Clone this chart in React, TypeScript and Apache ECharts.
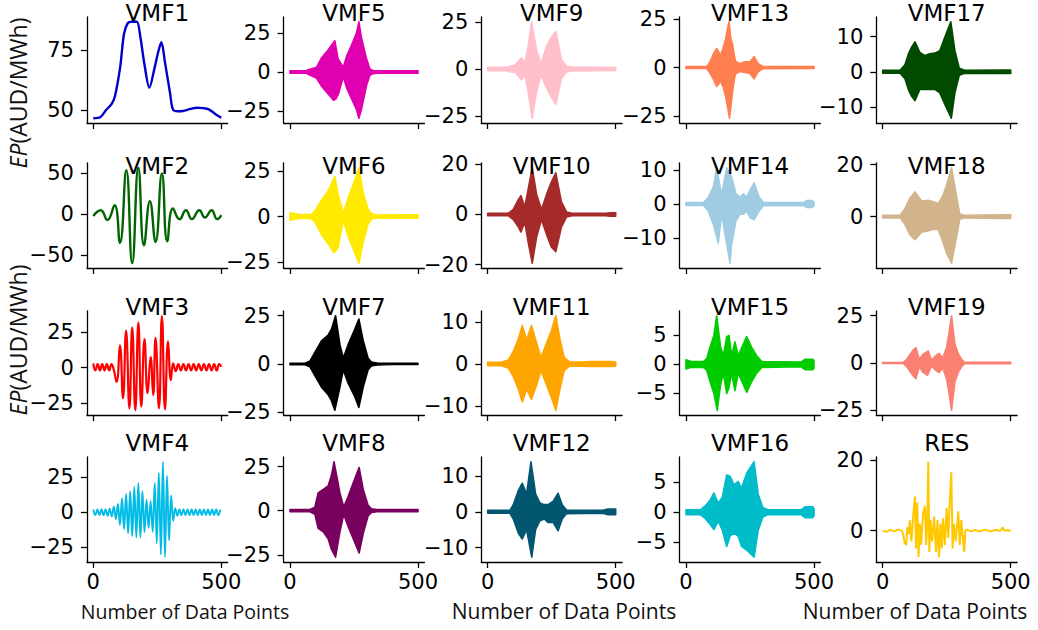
import React, { useEffect, useRef } from "react";
import * as echarts from "echarts";

type Pt = [number, number];

// ---- Data: x = data point index (0..500), y = EP in AUD/MWh ----

const vmf1: Pt[] = [
  [0, 46.6], [27, 47], [50, 50], [73, 52.8], [85, 56], [105, 68], [120, 82], [135, 86.5],
  [150, 87], [170, 87], [184, 80.5], [200, 69], [219, 59.4], [240, 68], [255, 75], [266, 78.5],
  [280, 70], [300, 57], [311, 50.3], [330, 49.5], [350, 49.6], [380, 50.5], [405, 51],
  [430, 50.8], [451, 50.3], [475, 48.5], [500, 46.8],
];

const vmf2: Pt[] = [
  [0, -2], [29, 5], [55, -7], [83, 11], [104, -35], [129, 54], [152, -60], [176, 57],
  [198, -38], [221, 16], [243, -34], [268, 50], [289, -33], [311, 7], [337, -6], [362, 5],
  [385, -6], [414, 5], [436, -4], [462, 5], [484, -6], [500, -1],
];

const vmf3: Pt[] = [
  [0, 3], [8, -2], [17, 2.5], [26, -2], [35, 2.5], [44, -2], [53, 2.5], [62, -2], [71, 2.5],
  [80, -1.5], [91, -10], [104, 15.6], [116, -21.6], [128, 26], [141, -28.6], [152, 28.4],
  [164, -30], [176, 31.9], [187.5, -27.4], [200, 20], [212, -18], [224, 7.4], [234, -19.3],
  [243, 21], [256.5, -28.6], [268, 36.5], [280, -29.3], [292, 18.4], [303, -8.8], [312, 3],
  [322, -2.5], [332, 2.5], [342, -2], [352, 2.5], [362, -2], [372, 2.5], [382, -2], [392, 2.5],
  [402, -2], [412, 2.5], [422, -2], [432, 2.5], [442, -2], [452, 2.5], [462, -2], [472, 2.5],
  [482, -2], [492, 2.5], [500, 0.5],
];

// VMF4 sampled every 8 data points (successive crests and troughs)
const vmf4Step = 8;
const vmf4Values: number[] = [
  2, -2, 2, -2, 2, -2, 2, -2.5, 2.5, -3, 4, -5, 6, -9, 10, -12, 13, -15, 15, -17, 18, -18,
  21, -18, 15, -14, 9, -11, 8, -14, 21, -22, 28, -30, 36, -32, 26, -20, 12, -6, 3, -2.5,
  2, -2, 2, -2, 2, -2, 2, -2, 2, -2, 2, -2, 2, -2, 2, -2, 2, -2, 2, -2, 2,
];

// Envelopes (upper / lower) of the fast-oscillating modes
const vmf5Upper: Pt[] = [[0, 0.8], [65, 0.8], [71, 1.5], [104, 3], [123, 9], [149, 14], [175, 20], [188, 8.4], [208, 3], [221, 10], [240, 17], [260, 25], [269, 32], [279, 22], [299, 8.4], [312, 2], [325, 1], [340, 0.8], [500, 0.8]];
const vmf5Lower: Pt[] = [[0, -0.8], [65, -0.8], [71, -1.5], [104, -4], [123, -9], [149, -14], [170, -18], [180, -17], [190, -13.6], [208, -3], [221, -10], [240, -17], [260, -24], [269, -29.4], [279, -24], [299, -8.4], [312, -2], [325, -1], [340, -0.8], [500, -0.8]];

const vmf6Upper: Pt[] = [[0, 2], [20, 1.5], [45, 1], [84, 1.2], [97, 3], [123, 9], [149, 14], [175, 22], [188, 12], [208, 2], [227, 10], [253, 20], [269, 26.8], [286, 13], [305, 4], [318, 1.5], [340, 0.8], [500, 1]];
const vmf6Lower: Pt[] = [[0, -2], [20, -1.5], [45, -1], [84, -1.2], [97, -3], [123, -10], [149, -15], [172, -20], [188, -17], [208, -2], [227, -11], [253, -20], [269, -25.7], [286, -14], [305, -4], [318, -1.5], [340, -0.8], [500, -1]];

const vmf7Upper: Pt[] = [[0, 0.4], [58, 0.4], [78, 1.5], [97, 6], [123, 12], [149, 15], [162, 18], [178, 25], [195, 10], [208, 3], [227, 10], [253, 18], [269, 23.3], [286, 12], [305, 3], [318, 1], [340, 0.5], [400, 0.3], [500, 0.3]];
const vmf7Lower: Pt[] = [[0, -0.4], [58, -0.4], [78, -1.5], [97, -6], [123, -12], [149, -16], [162, -19], [175, -24], [195, -12], [208, -3], [227, -10], [253, -17], [269, -22.5], [286, -12], [305, -3], [318, -1], [340, -0.5], [400, -0.3], [500, -0.3]];

const vmf8Upper: Pt[] = [[0, 0.6], [78, 0.6], [97, 2], [110, 10], [130, 12], [149, 14], [162, 20], [172, 27.7], [195, 10], [210, 2], [227, 8], [253, 18], [270, 24.5], [286, 12], [305, 3], [318, 1], [340, 0.6], [500, 0.6]];
const vmf8Lower: Pt[] = [[0, -0.6], [78, -0.6], [97, -2], [110, -10], [130, -12], [149, -16], [162, -22], [178, -26.4], [195, -12], [210, -2], [227, -9], [253, -18], [270, -24], [286, -13], [305, -3], [318, -1], [340, -0.6], [500, -0.6]];

const vmf9Upper: Pt[] = [[0, 0.9], [74, 0.9], [87, 1.5], [106, 2], [132, 5.9], [145, 3], [158, 12], [171, 25], [191, 10], [208, 3], [230, 12], [249, 17], [266, 20], [288, 5], [308, 1.5], [330, 1], [500, 0.8]];
const vmf9Lower: Pt[] = [[0, -0.9], [74, -0.9], [87, -1.5], [106, -1.5], [132, -5.7], [145, -3], [158, -12], [174, -26], [191, -12], [208, -3], [230, -10], [249, -15], [266, -18.6], [288, -5], [308, -1.5], [330, -1], [500, -0.8]];

const vmf10Upper: Pt[] = [[0, 0.5], [81, 0.5], [100, 2], [120, 6], [130, 7.5], [145, 3], [158, 10], [174, 18.6], [191, 8], [210, 2], [230, 8], [249, 13], [266, 16.6], [288, 5], [308, 1], [330, 0.5], [460, 0.5], [480, 0.7], [500, 0.7]];
const vmf10Lower: Pt[] = [[0, -0.5], [81, -0.5], [100, -2], [120, -5], [130, -7], [145, -3], [158, -11], [174, -19.4], [191, -9], [210, -2], [230, -8], [249, -13], [266, -14.8], [288, -5], [308, -1], [330, -0.5], [460, -0.5], [480, -0.7], [500, -0.7]];

const vmf11Upper: Pt[] = [[0, 0.4], [55, 0.4], [81, 1], [100, 3], [120, 6], [135, 9.2], [152, 5.7], [171, 9.2], [191, 5], [208, 1.5], [230, 5], [249, 8], [266, 11.5], [282, 6], [299, 1.5], [320, 0.5], [370, 0.5], [400, 0.6], [480, 0.6], [500, 0.5]];
const vmf11Lower: Pt[] = [[0, -0.4], [55, -0.4], [81, -1], [100, -3], [120, -6], [135, -9], [152, -6], [171, -8.4], [191, -5], [208, -1.5], [230, -5], [249, -8], [266, -11], [282, -6], [299, -1.5], [320, -0.5], [370, -0.5], [400, -0.6], [480, -0.6], [500, -0.5]];

const vmf12Upper: Pt[] = [[0, 0.4], [87, 0.4], [100, 2], [120, 6], [135, 8], [152, 5], [169, 14], [187, 5], [204, 2.5], [221, 2], [236, 2], [256, 3], [275, 5.2], [291, 2], [308, 0.5], [450, 0.4], [470, 0.8], [500, 0.8]];
const vmf12Lower: Pt[] = [[0, -0.4], [87, -0.4], [100, -2], [120, -6], [135, -7.6], [152, -5], [172, -12.7], [187, -5], [204, -2.5], [221, -2], [236, -3], [256, -3], [275, -5.3], [291, -2], [308, -0.5], [450, -0.4], [470, -0.8], [500, -0.8]];

const vmf13Upper: Pt[] = [[0, 0.5], [81, 0.5], [94, 3], [107, 7], [120, 9.8], [135, 6.4], [145, 10], [155, 15], [162, 20], [168, 23.5], [175, 15], [182, 12], [190, 5], [195, 3], [211, 2], [230, 3], [250, 3], [266, 5.6], [282, 2], [300, 0.6], [500, 0.5]];
const vmf13Lower: Pt[] = [[0, -0.5], [81, -0.5], [94, -3], [107, -6], [120, -9.7], [135, -7], [145, -10], [155, -15], [162, -20], [170, -26], [177, -18], [182, -12], [190, -5], [195, -3], [211, -2], [230, -2.5], [250, -3], [266, -5.8], [282, -2], [300, -0.6], [500, -0.5]];

const vmf14Upper: Pt[] = [[0, 0.4], [68, 0.4], [87, 2], [107, 5], [120, 10.6], [139, 2.6], [159, 10.6], [178, 8], [195, 3], [211, 2], [224, 3], [237, 2], [250, 4], [266, 6.2], [286, 2], [302, 0.5], [460, 0.4], [470, 1], [490, 1], [500, 0.6]];
const vmf14Lower: Pt[] = [[0, -0.4], [68, -0.4], [87, -2], [107, -6], [126, -11.4], [139, -3], [160, -12], [172, -17.3], [178, -12], [195, -5], [211, -3], [224, -3], [237, -2], [250, -4], [266, -4.6], [286, -2], [302, -0.5], [460, -0.4], [470, -1], [490, -1], [500, -0.6]];

const vmf15Upper: Pt[] = [[0, 0.8], [20, 0.5], [68, 0.5], [81, 1], [94, 3], [109, 5], [120, 8.4], [135, 3], [146, 1.5], [159, 4.8], [168, 5], [178, 1.5], [191, 3.9], [204, 1.5], [224, 3.5], [237, 4.8], [256, 3], [276, 1.5], [296, 0.5], [450, 0.4], [465, 0.9], [495, 0.9], [500, 0.6]];
const vmf15Lower: Pt[] = [[0, -0.8], [20, -0.5], [68, -0.5], [81, -1], [94, -3], [109, -5], [122, -7.9], [135, -3.5], [146, -1.5], [159, -5], [168, -4], [178, -1.5], [191, -4.5], [204, -1.5], [224, -3.5], [237, -4.8], [256, -3], [276, -1.5], [296, -0.5], [450, -0.4], [465, -0.9], [495, -0.9], [500, -0.6]];

const vmf16Upper: Pt[] = [[0, 0.4], [55, 0.4], [74, 1], [94, 2], [109, 3.2], [126, 1.5], [142, 2.5], [159, 6.2], [172, 6], [187, 4.6], [204, 5.1], [217, 4], [237, 6.5], [266, 8.4], [282, 3], [300, 0.8], [320, 0.4], [450, 0.4], [465, 0.9], [495, 0.9], [500, 0.6]];
const vmf16Lower: Pt[] = [[0, -0.4], [55, -0.4], [74, -1], [94, -2], [109, -2.9], [126, -1.5], [142, -3], [159, -5.7], [172, -4], [187, -3.5], [204, -4], [217, -5.7], [237, -6.3], [266, -7.5], [282, -3], [300, -0.8], [320, -0.4], [450, -0.4], [465, -0.9], [495, -0.9], [500, -0.6]];

const vmf17Upper: Pt[] = [[0, 0.4], [68, 0.4], [87, 2], [100, 5], [113, 7], [126, 8.5], [145, 5.5], [165, 4.6], [184, 5.1], [204, 5.3], [223, 6], [243, 9.9], [266, 14.2], [282, 6], [299, 1], [320, 0.4], [480, 0.5], [500, 0.5]];
const vmf17Lower: Pt[] = [[0, -0.4], [68, -0.4], [87, -2], [100, -5], [113, -7], [126, -8.2], [145, -5], [165, -5], [184, -5], [204, -5], [223, -6], [243, -9.3], [268, -13.2], [282, -6], [299, -1], [320, -0.4], [480, -0.5], [500, -0.5]];

const vmf18Upper: Pt[] = [[0, 0.5], [68, 0.5], [87, 3], [106, 7], [126, 9.5], [152, 6], [178, 6.3], [197, 5.7], [217, 5], [236, 8.2], [249, 12], [269, 18.8], [288, 8], [301, 1], [320, 0.5], [470, 0.7], [500, 0.7]];
const vmf18Lower: Pt[] = [[0, -0.5], [68, -0.5], [87, -3], [106, -7], [126, -8.9], [152, -6], [178, -5.5], [197, -5], [217, -5], [236, -10], [249, -14], [269, -18], [288, -8], [301, -1], [320, -0.5], [470, -0.7], [500, -0.7]];

const vmf19Upper: Pt[] = [[0, 0.3], [81, 0.3], [94, 2], [120, 7], [130, 8.1], [143, 2], [158, 4.7], [178, 6.4], [191, 1.5], [208, 4], [221, 5], [234, 2.5], [249, 8], [258, 15], [269, 25], [282, 10], [295, 5], [308, 2], [320, 0.4], [500, 0.4]];
const vmf19Lower: Pt[] = [[0, -0.3], [81, -0.3], [94, -2], [120, -7], [130, -8.3], [143, -2], [158, -5], [175, -6.5], [191, -1.5], [208, -4], [221, -5], [234, -2.5], [249, -8], [258, -15], [269, -25], [282, -10], [295, -5], [308, -2], [320, -0.4], [500, -0.4]];

const res: Pt[] = [
  [0, 0], [15, -0.3], [30, 0.3], [45, -0.2], [60, 0.3], [75, 0], [80, -1], [86, -3.5], [92, -4],
  [96, 1], [101, -1], [106, 3], [112, -3], [120, 5], [126, 9.7], [130, -5], [135, 8], [140, -7.4],
  [145, 2], [150, -4], [158, 5], [165, 7], [170, -4], [174, 2], [178, 19.5], [182, -6], [187, 3],
  [193, -3], [201, 4], [208, -6], [214, 3], [220, -7.5], [226, 2], [231, -5], [236, 3.5],
  [243, -4], [250, 6.5], [256, -2], [262, 8], [268, 16.5], [273, -5], [278, 2], [285, -3],
  [295, 5.5], [301, -4], [307, 3], [313, -2], [318, -6], [323, 0], [330, 0.3], [345, -0.2],
  [360, 0.2], [380, -0.2], [400, 0.3], [420, -0.2], [440, 0.2], [460, 0], [468, 1], [475, 0],
  [490, 0.2], [500, -0.2],
];

// Panel order: column by column (VMF1..4, VMF5..8, ...)
const titles = [
  "VMF1", "VMF2", "VMF3", "VMF4", "VMF5", "VMF6", "VMF7", "VMF8", "VMF9", "VMF10",
  "VMF11", "VMF12", "VMF13", "VMF14", "VMF15", "VMF16", "VMF17", "VMF18", "VMF19", "RES",
];

const yTicks: number[][] = [
  [50, 75], [-50, 0, 50], [-25, 0, 25], [-25, 0, 25],
  [-25, 0, 25], [-25, 0, 25], [-25, 0, 25], [-25, 0, 25],
  [-25, 0, 25], [-20, 0, 20], [-10, 0, 10], [-10, 0, 10],
  [-25, 0, 25], [-10, 0, 10], [-5, 0, 5], [-5, 0, 5],
  [-10, 0, 10], [0, 20], [-25, 0, 25], [0, 20],
];

const xTicks = [0, 500];

const colors = [
  "#0000cd", "#006400", "#ff0000", "#00bce6",
  "#e000b0", "#ffea00", "#000000", "#78005f",
  "#ffc0cb", "#a52a2a", "#ffa500", "#035670",
  "#ff7f50", "#a0cbe2", "#00cc00", "#00bcc8",
  "#004b00", "#d2b48c", "#fa8072", "#ffc800",
];

const vmf4: Pt[] = vmf4Values.map((v, i) => [i * vmf4Step, v] as Pt);

// Either a single trace or an upper/lower envelope pair
type Trace = { line: Pt[]; smooth: number; width: number } | { upper: Pt[]; lower: Pt[] };

const traces: Trace[] = [
  { line: vmf1, smooth: 0.3, width: 2.4 },
  { line: vmf2, smooth: 0.5, width: 2.4 },
  { line: vmf3, smooth: 0.5, width: 2.2 },
  { line: vmf4, smooth: 0.4, width: 1.9 },
  { upper: vmf5Upper, lower: vmf5Lower },
  { upper: vmf6Upper, lower: vmf6Lower },
  { upper: vmf7Upper, lower: vmf7Lower },
  { upper: vmf8Upper, lower: vmf8Lower },
  { upper: vmf9Upper, lower: vmf9Lower },
  { upper: vmf10Upper, lower: vmf10Lower },
  { upper: vmf11Upper, lower: vmf11Lower },
  { upper: vmf12Upper, lower: vmf12Lower },
  { upper: vmf13Upper, lower: vmf13Lower },
  { upper: vmf14Upper, lower: vmf14Lower },
  { upper: vmf15Upper, lower: vmf15Lower },
  { upper: vmf16Upper, lower: vmf16Lower },
  { upper: vmf17Upper, lower: vmf17Lower },
  { upper: vmf18Upper, lower: vmf18Lower },
  { upper: vmf19Upper, lower: vmf19Lower },
  { line: res, smooth: 0, width: 2 },
];

// ---- Layout ----
const W = 1038;
const H = 630;
const colZeroX = [93.3, 290, 487.7, 686, 882.7];
const pxPerUnit = 0.256;
const rowTop = [17, 163, 311, 457];
const rowBottom = [123, 268, 415, 562];
const titleY = [13, 166, 307, 443];

const TICK_FONT = "'DejaVu Sans', sans-serif";
const LABEL_FONT = "'Open Sans', sans-serif";
const minusSign = (v: number) => String(v).replace("-", "\u2212");

function buildOption(): echarts.EChartsOption {
  const grid: any[] = [];
  const xAxis: any[] = [];
  const yAxis: any[] = [];
  const series: any[] = [];
  const graphic: any[] = [];

  traces.forEach((tr, i) => {
    const col = Math.floor(i / 4);
    const row = i % 4;
    const left = colZeroX[col] - 25 * pxPerUnit;
    const width = 550 * pxPerUnit;
    const top = rowTop[row];
    const height = rowBottom[row] - rowTop[row];
    grid.push({ left, top, width, height, containLabel: false });

    const pts = "line" in tr ? tr.line : [...tr.upper, ...tr.lower];
    const ys = pts.map((p) => p[1]);
    const lo = Math.min(...ys);
    const hi = Math.max(...ys);
    const pad = (hi - lo) * 0.05;

    xAxis.push({
      type: "value",
      gridIndex: i,
      min: -25,
      max: 525,
      axisLine: { show: true, onZero: false, lineStyle: { color: "#000", width: 1.3 } },
      axisTick: { show: true, customValues: xTicks, length: 6, lineStyle: { color: "#000", width: 1.3 } },
      axisLabel: {
        show: row === 3,
        customValues: xTicks,
        fontSize: 21,
        fontFamily: TICK_FONT,
        color: "#000",
        margin: 9,
      },
      splitLine: { show: false },
    });
    yAxis.push({
      type: "value",
      gridIndex: i,
      min: lo - pad,
      max: hi + pad,
      axisLine: { show: true, onZero: false, lineStyle: { color: "#000", width: 1.3 } },
      axisTick: { show: true, customValues: yTicks[i], length: 6, lineStyle: { color: "#000", width: 1.3 } },
      axisLabel: {
        show: true,
        customValues: yTicks[i],
        fontSize: 21,
        fontFamily: TICK_FONT,
        color: "#000",
        margin: 13,
        formatter: (v: number) => minusSign(v),
      },
      splitLine: { show: false },
    });

    const color = colors[i];
    if ("line" in tr) {
      series.push({
        type: "line",
        xAxisIndex: i,
        yAxisIndex: i,
        data: tr.line,
        smooth: tr.smooth,
        showSymbol: false,
        symbol: "none",
        lineStyle: { color, width: tr.width },
      });
    } else {
      // one closed outline: upper envelope left-to-right, lower envelope back right-to-left
      const outline: Pt[] = [...tr.upper, ...tr.lower.slice().reverse()];
      series.push({
        type: "custom",
        coordinateSystem: "cartesian2d",
        xAxisIndex: i,
        yAxisIndex: i,
        data: outline,
        encode: { x: 0, y: 1 },
        clip: true,
        renderItem: (params: any, api: any) => {
          if (params.dataIndex !== 0) return null;
          const points = outline.map((p) => api.coord(p));
          return {
            type: "polygon",
            shape: { points },
            style: { fill: color, stroke: color, lineWidth: 1.6, lineJoin: "round" },
          };
        },
      });
    }

    graphic.push({
      type: "text",
      x: colZeroX[col] + 250 * pxPerUnit,
      y: titleY[row],
      z: 10,
      style: {
        text: titles[i],
        fontSize: 23,
        fontFamily: TICK_FONT,
        fill: "#000",
        align: "center",
        verticalAlign: "middle",
        textAlign: "center",
        textVerticalAlign: "middle",
      },
    });
  });

  // y-axis names
  for (const cy of [93, 340]) {
    graphic.push({
      type: "text",
      x: 18,
      y: cy,
      rotation: Math.PI / 2,
      style: {
        text: "{i|EP}(AUD/MWh)",
        fontSize: 23,
        fontFamily: LABEL_FONT,
        fill: "#111",
        align: "center",
        verticalAlign: "middle",
        textAlign: "center",
        textVerticalAlign: "middle",
        rich: { i: { fontStyle: "italic", fontSize: 23, fontFamily: LABEL_FONT, fill: "#111" } },
      },
    });
  }

  // x-axis names
  const xNames = [
    { cx: 185, size: 19.5 },
    { cx: 564, size: 21 },
    { cx: 915, size: 21 },
  ];
  for (const n of xNames) {
    graphic.push({
      type: "text",
      x: n.cx,
      y: 611,
      style: {
        text: "Number of Data Points",
        fontSize: n.size,
        fontFamily: LABEL_FONT,
        fill: "#111",
        align: "center",
        verticalAlign: "middle",
        textAlign: "center",
        textVerticalAlign: "middle",
      },
    });
  }

  return {
    animation: false,
    backgroundColor: "#ffffff",
    grid,
    xAxis,
    yAxis,
    series,
    graphic,
  };
}

export default function App() {
  const ref = useRef<HTMLDivElement>(null);
  useEffect(() => {
    if (!ref.current) return;
    const chart = echarts.init(ref.current, undefined, { renderer: "svg" });
    chart.setOption(buildOption());
    return () => chart.dispose();
  }, []);
  return (
    <div
      ref={ref}
      style={{ position: "fixed", left: 0, top: 0, width: W, height: H, background: "#fff" }}
    />
  );
}
